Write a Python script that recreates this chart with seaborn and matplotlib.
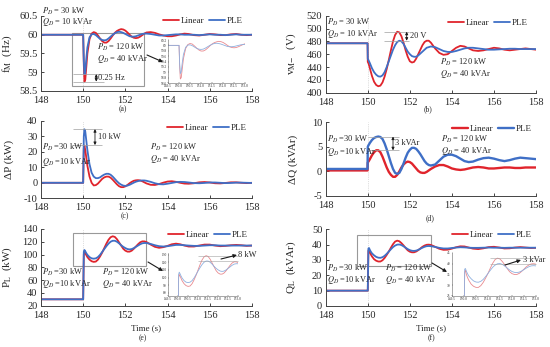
import numpy as np
import matplotlib
matplotlib.use("Agg")
import matplotlib.pyplot as plt
from matplotlib.patches import Rectangle
from matplotlib.ticker import FormatStrFormatter
import seaborn as sns

sns.set_theme(style="ticks")
plt.rcParams["font.family"] = ["Liberation Serif", "DejaVu Serif"]
plt.rcParams["mathtext.fontset"] = "stix"

# time samples (s)
t = [148.0, 149.99, 150.0, 150.03, 150.06, 150.1, 150.15,
     150.2, 150.3, 150.4, 150.5, 150.6, 150.7, 150.8, 150.9, 151.0, 151.1,
     151.2, 151.3, 151.4, 151.5, 151.6, 151.7, 151.8, 151.9, 152.0, 152.1,
     152.2, 152.3, 152.4, 152.5, 152.6, 152.7, 152.8, 152.9, 153.0,
     153.2, 153.4, 153.6, 153.8, 154.0, 154.2, 154.4, 154.6, 154.8, 155.0,
     155.25, 155.5, 155.75, 156.0, 156.25, 156.5, 156.75, 157.0, 157.25, 157.5, 157.75, 158.0]

# (a) frequency f_M (Hz)
f_lin = [60.0, 60.0, 60.0, 59.2, 58.75, 58.8, 59.15,
         59.5, 59.88, 60.03, 60.07, 60.05, 59.98, 59.9, 59.83, 59.79, 59.79,
         59.83, 59.9, 59.98, 60.05, 60.1, 60.13, 60.15, 60.14, 60.11, 60.06,
         60.0, 59.95, 59.92, 59.91, 59.92, 59.95, 59.99, 60.03, 60.06,
         60.07, 60.05, 60.01, 59.98, 59.96, 59.96, 59.98, 60.01, 60.03, 60.02,
         59.99, 59.98, 60.0, 60.02, 60.01, 59.99, 59.99, 60.01, 60.02, 60.0, 59.99, 60.0]
f_ple = [60.0, 60.0, 60.0, 59.3, 58.95, 59.02, 59.37,
         59.66, 59.93, 60.01, 60.02, 59.99, 59.94, 59.89, 59.86, 59.85, 59.86,
         59.9, 59.95, 60.0, 60.04, 60.07, 60.08, 60.07, 60.05, 60.02, 59.99,
         59.96, 59.95, 59.95, 59.96, 59.98, 60.0, 60.02, 60.03, 60.03,
         60.02, 60.0, 59.98, 59.98, 59.99, 60.0, 60.01, 60.01, 60.0, 60.0,
         60.0, 59.99, 60.0, 60.01, 60.0, 60.0, 59.99, 60.0, 60.01, 60.0, 60.0, 60.0]

# (b) voltage v_M- (V)
v_lin = [477, 477, 448, 446, 443, 438, 432,
         426, 417, 412, 410, 411, 416, 425, 437, 451, 466,
         480, 490, 495, 494, 488, 478, 466, 456, 449, 447,
         448, 453, 460, 467, 474, 479, 481, 481, 478,
         469, 462, 459, 460, 465, 470, 473, 472, 469, 466,
         465, 466, 468, 470, 469, 467, 466, 467, 468, 469, 468, 467]
v_ple = [477, 477, 453, 451, 449, 446, 442,
         438, 432, 428, 425.5, 425, 427, 432, 440, 449, 458,
         467, 474, 479, 481, 480, 476, 470, 464, 460, 457,
         456, 456, 458, 461, 464, 467, 470, 471, 472,
         471, 468, 465, 463.5, 463.5, 465, 467, 469, 470, 470,
         469, 468, 467, 467, 467.5, 468, 468.5, 468.5, 468, 468, 468, 468]

# (c) active power deviation dP (kW)
dp_lin = [0, 0, 0, 22, 24, 21, 16,
          11, 4, 0, -1.7, -1.5, -0.5, 1, 2.5, 3.5, 4,
          4, 3.3, 2, 0.5, -1, -2.2, -2.8, -2.8, -2.3, -1.4,
          -0.3, 0.6, 1.3, 1.6, 1.7, 1.5, 1.0, 0.3, -0.4,
          -1.3, -1.4, -0.8, 0.1, 0.8, 1.0, 0.6, 0.0, -0.5, -0.6,
          -0.3, 0.3, 0.5, 0.2, -0.3, -0.4, -0.1, 0.3, 0.3, 0.0, -0.2, 0.0]
dp_ple = [0, 0, 0, 30, 34.5, 33, 27,
          21, 12, 6.5, 4, 3, 3, 3.5, 4.5, 5.3, 5.8,
          5.8, 5.2, 4, 2.5, 1, -0.3, -1.2, -1.8, -2.0, -1.8,
          -1.3, -0.6, 0.1, 0.7, 1.1, 1.4, 1.5, 1.5, 1.3,
          0.6, -0.3, -0.9, -1.0, -0.6, -0.1, 0.4, 0.6, 0.5, 0.2,
          -0.2, -0.3, -0.1, 0.2, 0.2, 0.0, -0.2, -0.1, 0.1, 0.1, 0.0, -0.1]

# (d) reactive power deviation dQ (kVAr)
dq_lin = [0.2, 0.2, 1.8, 2.0, 2.2, 2.5, 2.9,
          3.3, 3.9, 4.3, 4.3, 3.9, 3.0, 1.9, 0.8, -0.1, -0.7,
          -1.1, -1.1, -0.7, 0.0, 0.8, 1.4, 1.8, 2.0, 1.9, 1.6,
          1.1, 0.6, 0.1, -0.2, -0.3, -0.3, -0.1, 0.2, 0.5,
          1.0, 1.3, 1.3, 1.0, 0.6, 0.4, 0.3, 0.4, 0.6, 0.8,
          0.9, 0.8, 0.6, 0.6, 0.7, 0.8, 0.8, 0.7, 0.7, 0.8, 0.8, 0.8]
dq_ple = [0.5, 0.5, 5.0, 5.3, 5.5, 5.8, 6.1,
          6.4, 6.8, 7.0, 7.1, 7.0, 6.6, 5.7, 4.5, 3.1, 1.7,
          0.5, -0.3, -0.5, -0.3, 0.5, 1.6, 2.8, 3.8, 4.4, 4.8,
          4.8, 4.6, 4.1, 3.5, 2.8, 2.1, 1.6, 1.3, 1.2,
          1.4, 2.2, 3.0, 3.4, 3.4, 3.1, 2.6, 2.1, 1.9, 2.0,
          2.4, 2.7, 2.8, 2.6, 2.3, 2.1, 2.3, 2.6, 2.8, 2.7, 2.6, 2.5]

# (e) load active power P_L (kW)
pl_lin = [30, 30, 30, 100, 104, 102, 99,
          96, 92, 89.5, 88.5, 89, 92, 97, 103, 110, 117,
          123, 127, 128.5, 127.5, 124, 119, 114, 109, 106, 104.5,
          104.5, 106, 109, 112.5, 116, 119, 120.5, 120.5, 119.5,
          115.5, 112, 110.5, 111.5, 113.5, 116, 117, 116, 114, 112.5,
          112.5, 114, 115.5, 115.5, 114, 113, 113.5, 114.5, 115, 114.5, 113.5, 114]
pl_ple = [30, 30, 30, 104, 107, 105, 102,
          99.5, 96, 94, 93.5, 94, 96, 99.5, 104, 108.5, 113,
          117, 120, 121.5, 121.5, 120, 117.5, 114.5, 112, 110, 108.5,
          108, 108.5, 110, 112, 114, 116, 117.5, 118, 118,
          116.5, 114.5, 113, 112.5, 113, 114, 115, 115, 114.5, 114,
          113.5, 113.5, 114, 114.5, 114.5, 114, 114, 114, 114, 114, 114, 114]

# (f) load reactive power Q_L (kVAr)
ql_lin = [10, 10, 10, 36, 37, 35, 33.5,
          32.3, 30.5, 29.5, 29, 29, 29.8, 31.3, 33.3, 35.5, 38,
          40.3, 42, 42.6, 42.2, 41, 39.5, 37.8, 36.3, 35.4, 35,
          35, 35.5, 36.4, 37.5, 38.6, 39.4, 39.9, 40, 39.8,
          38.6, 37.3, 36.6, 36.7, 37.4, 38.3, 38.9, 38.8, 38.1, 37.4,
          37.1, 37.6, 38.4, 38.6, 38.1, 37.5, 37.6, 38.1, 38.4, 38.1, 37.8, 37.9]
ql_ple = [10, 10, 10, 37.5, 37.8, 36.5, 35.3,
          34.3, 33, 32, 31.5, 31.4, 31.8, 32.7, 34, 35.5, 37,
          38.4, 39.4, 40, 40.1, 39.7, 38.9, 38, 37.1, 36.4, 36,
          35.9, 36.1, 36.6, 37.3, 38, 38.6, 39, 39.1, 39,
          38.5, 37.9, 37.5, 37.5, 37.8, 38.1, 38.3, 38.2, 38, 37.9,
          37.9, 38, 38.1, 38, 38, 37.9, 38, 38, 38, 38, 38, 38]

RED = "#e0242c"
BLUE = "#3f6fc6"
LRED = "#e98a8f"
LBLUE = "#8fb0df"
GREY = "#a0a0a0"
W, H = 550, 347

fig = plt.figure(figsize=(5.5, 3.47), dpi=100)


def fxy(x, y):
    return x / W, 1 - y / H


def panel(rect, lin, ple, ylim, yticks, ylabel, fmt="%g", lw=1.3):
    ax = fig.add_axes(rect)
    sns.lineplot(x=t, y=lin, ax=ax, color=RED, lw=lw, estimator=None, sort=False)
    sns.lineplot(x=t, y=ple, ax=ax, color=BLUE, lw=lw, estimator=None, sort=False)
    ax.axvline(150, color="#c0c0c0", lw=0.5, ls=":", zorder=0)
    ax.set_xlim(148, 158)
    ax.set_ylim(*ylim)
    ax.set_xticks(range(148, 159, 2))
    ax.set_yticks(yticks)
    ax.yaxis.set_major_formatter(FormatStrFormatter(fmt))
    ax.set_ylabel(ylabel, fontsize=8)
    ax.yaxis.set_label_coords(-0.13, 0.5)
    sns.despine(ax=ax)
    ax.tick_params(direction="in", length=2, width=0.6, labelsize=7.5)
    ax.tick_params(axis="x", pad=3.5)
    ax.tick_params(axis="y", pad=2.5)
    for s in ax.spines.values():
        s.set_linewidth(0.7)
        s.set_color("#444444")
    return ax


def legend(ax, xr, y):
    h = ax.get_lines()[:2]
    ax.legend(h, ["Linear", "PLE"], loc="center right", bbox_to_anchor=fxy(xr, y),
              bbox_transform=fig.transFigure, ncol=2, frameon=False, fontsize=6.5,
              handlelength=1.8, handletextpad=0.2, columnspacing=0.5,
              borderpad=0, borderaxespad=0)


def label2(ax, x, y, lines, ls=1.0):
    ax.text(x, y, "\n".join(lines), fontsize=6, va="center", linespacing=ls,
            clip_on=False)


def bracket(ax, x0, x1, ya, yb, xa, txt, xt):
    ax.hlines([ya, yb], x0, x1, color=GREY, lw=0.5)
    ax.annotate("", xy=(xa, ya), xytext=(xa, yb),
                arrowprops=dict(arrowstyle="<|-|>", color="k", lw=0.6,
                                mutation_scale=4, shrinkA=0, shrinkB=0))
    ax.text(xt, (ya + yb) / 2, txt, fontsize=6, va="center")


def inset(rect, lin, ple, ylim, yticks):
    ia = fig.add_axes(rect)
    sns.lineplot(x=t, y=lin, ax=ia, color=LRED, lw=0.6, estimator=None, sort=False)
    sns.lineplot(x=t, y=ple, ax=ia, color=LBLUE, lw=0.6, estimator=None, sort=False)
    ia.set_xlim(149.5, 153)
    ia.set_ylim(*ylim)
    ia.set_xticks([149.5, 150, 150.5, 151, 151.5, 152, 152.5, 153])
    ia.set_yticks(yticks)
    ia.yaxis.set_major_formatter(FormatStrFormatter("%g"))
    ia.tick_params(direction="in", length=1, width=0.3, labelsize=2.5, pad=1)
    ia.patch.set_alpha(0)
    sns.despine(ax=ia)
    for s in ia.spines.values():
        s.set_linewidth(0.4)
        s.set_color("#666666")
    return ia


def arrow(x0, y0, x1, y1):
    fig.add_artist(plt.Annotation("", xy=fxy(x1, y1), xytext=fxy(x0, y0),
                                  xycoords="figure fraction", textcoords="figure fraction",
                                  arrowprops=dict(arrowstyle="-|>", color="k", lw=0.8,
                                                  mutation_scale=5, shrinkA=0, shrinkB=0)))


PD30 = (r"$P_D$ = 30 kW", r"$Q_D$ = 10 kVAr")
PD30b = (r"$P_D$ =30 kW", r"$Q_D$ =10 kVAr")
PD120 = (r"$P_D$ = 120 kW", r"$Q_D$ = 40 kVAr")

# (a)
ax = panel([0.0745, 0.7378, 0.3836, 0.2161], f_lin, f_ple, (58.5, 60.5),
           [58.5, 59, 59.5, 60, 60.5], r"f$_\mathrm{M}$  (Hz)")
legend(ax, 243, 20.7)
label2(ax, 148.05, 60.48, PD30, 0.95)
label2(ax, 150.64, 59.5, PD120, 0.95)
ax.add_patch(Rectangle((149.45, 58.63), 3.45, 1.42, fill=False, ec="#999999", lw=0.8))
bracket(ax, 149.5, 151.0, 58.95, 58.75, 150.62, "0.25 Hz", 150.72)
inset([0.3055, 0.7608, 0.1400, 0.1239], f_lin, f_ple, (58.6, 60.2),
      [58.6, 58.8, 59, 59.2, 59.4, 59.6, 59.8, 60, 60.2])
arrow(147, 55, 163, 62)

# (b)
ax = panel([0.5922, 0.7329, 0.3824, 0.2219], v_lin, v_ple, (400, 520),
           range(400, 521, 20), r"v$_\mathrm{M\!-}$  (V)")
legend(ax, 528, 23.3)
label2(ax, 148.05, 500.5, PD30, 0.95)
label2(ax, 153.43, 438, PD120, 1.0)
bracket(ax, 150.75, 151.95, 495, 481, 151.85, "20 V", 152.0)

# (c)
ax = panel([0.0745, 0.4285, 0.3836, 0.2236], dp_lin, dp_ple, (-10, 40),
           range(-10, 41, 10), r"ΔP (kW)")
legend(ax, 247, 128.3)
label2(ax, 148.03, 17.9, PD30b, 1.35)
label2(ax, 153.17, 19.2, PD120, 1.0)
bracket(ax, 149.5, 150.9, 34.6, 24.3, 150.56, "10 kW", 150.7)

# (d)
ax = panel([0.5922, 0.4352, 0.3824, 0.2124], dq_lin, dq_ple, (-5, 10),
           [-5, 0, 5, 10], r"ΔQ (kVAr)", lw=1.7)
legend(ax, 532, 129)
label2(ax, 148.05, 5.2, PD30b, 1.2)
label2(ax, 153.5, 5.2, PD120, 1.0)
bracket(ax, 150.0, 151.5, 7.1, 4.3, 151.2, "3 kVAr", 151.3)

# (e)
ax = panel([0.0745, 0.1190, 0.3836, 0.2213], pl_lin, pl_ple, (20, 140),
           range(20, 141, 20), r"P$_\mathrm{L}$  (kW)")
legend(ax, 248, 235)
label2(ax, 148.03, 62.8, PD30b, 1.05)
label2(ax, 150.88, 62.8, PD120, 1.05)
ax.add_patch(Rectangle((149.5, 82), 3.5, 51, fill=False, ec="#999999", lw=0.8))
ax.set_xlabel("Time (s)", fontsize=6.5, labelpad=3)
ia = inset([0.3055, 0.1470, 0.1275, 0.1239], pl_lin, pl_ple, (76, 132),
           [80, 90, 100, 110, 120, 130])
ia.hlines([128.5, 121.5], 151.0, 153.0, color=GREY, lw=0.4, clip_on=False)
arrow(148, 262, 163, 271)
arrow(221, 259, 237, 255)
fig.text(*fxy(238, 255), "8 kW", fontsize=6, va="center")

# (f)
ax = panel([0.5922, 0.1182, 0.3824, 0.2210], ql_lin, ql_ple, (0, 50),
           range(0, 51, 10), r"Q$_\mathrm{L}$  (kVAr)")
legend(ax, 532, 235)
label2(ax, 148.05, 20.75, PD30b, 1.05)
label2(ax, 150.82, 20.75, PD120, 1.05)
ax.add_patch(Rectangle((149.47, 26.1), 3.52, 20.2, fill=False, ec="#999999", lw=0.8))
ax.set_xlabel("Time (s)", fontsize=6.5, labelpad=3)
ia = inset([0.8218, 0.1470, 0.1527, 0.1239], ql_lin, ql_ple, (25, 45),
           [25, 30, 35, 40, 45])
ia.hlines([42.6, 40.1], 151.1, 153.0, color=GREY, lw=0.4, clip_on=False)
arrow(432, 263, 447, 272)
arrow(505, 265, 521, 260)
fig.text(*fxy(523, 259.5), "3 kVar", fontsize=6, va="center")

# sub-captions
for x, y, s in [(123, 109, "(a)"), (428, 109, "(b)"), (125, 216.5, "(c)"),
                (430, 218.5, "(d)"), (143, 338, "(e)"), (431, 338, "(f)")]:
    fig.text(*fxy(x, y), s, fontsize=5.5, ha="center", va="center")

fig.savefig("out.png", dpi=100)
